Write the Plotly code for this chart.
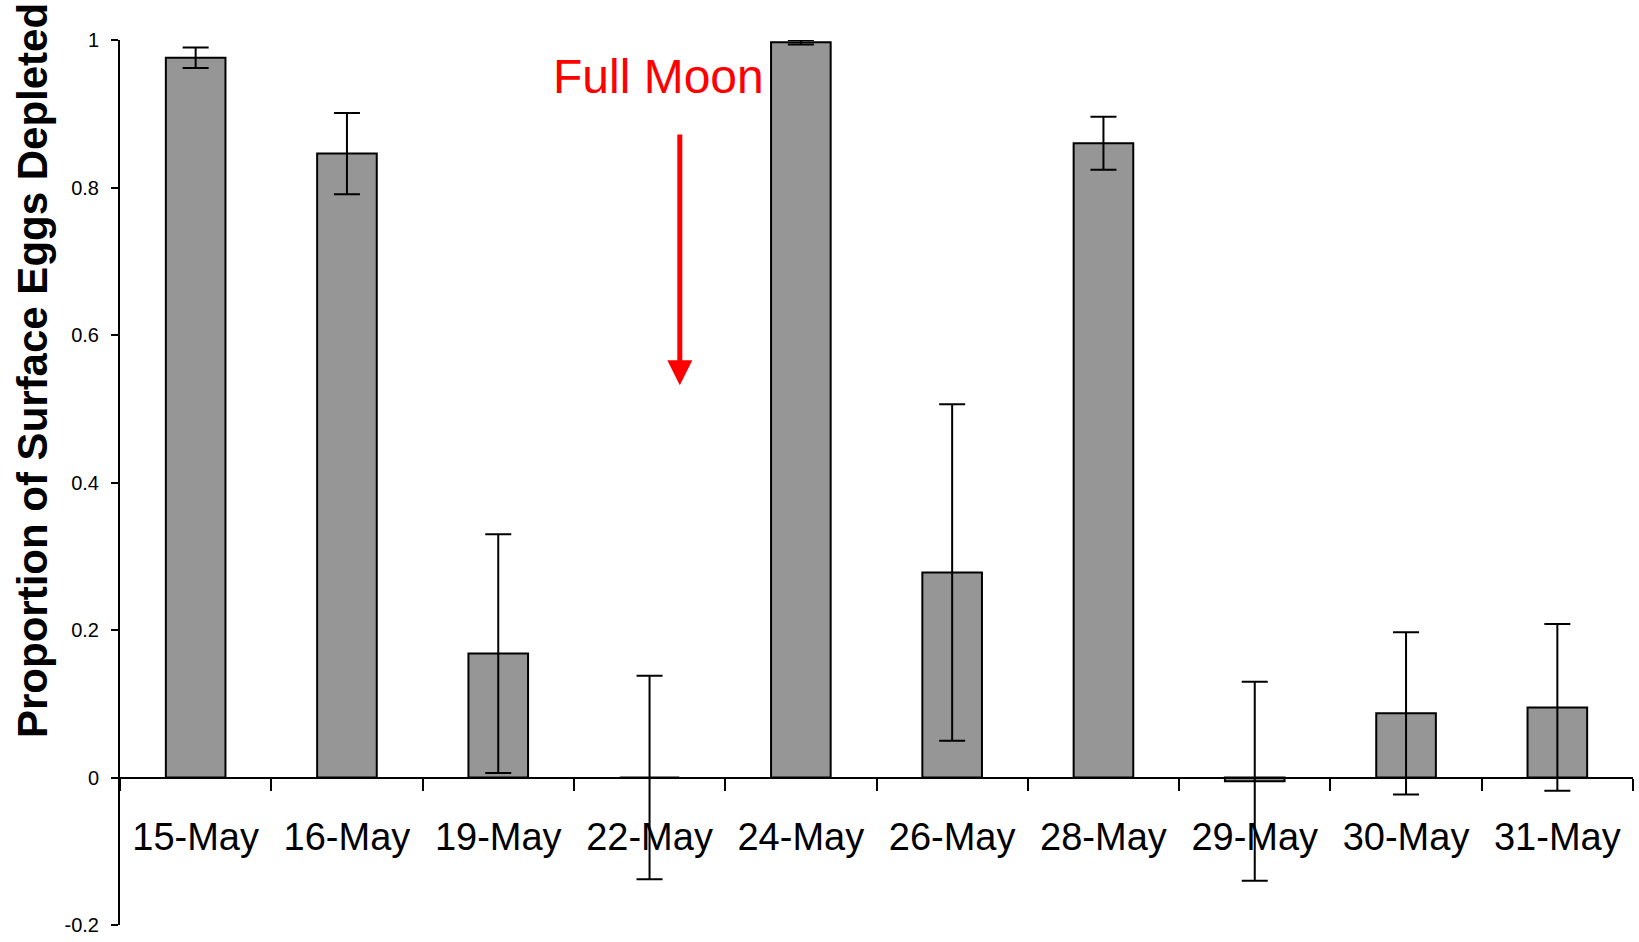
import plotly.graph_objects as go

dates = ["15-May", "16-May", "19-May", "22-May", "24-May", "26-May", "28-May", "29-May", "30-May", "31-May"]
proportion = [0.976, 0.846, 0.168, 0.0, 0.997, 0.278, 0.860, -0.005, 0.087, 0.095]
error = [0.014, 0.055, 0.162, 0.138, 0.003, 0.228, 0.036, 0.135, 0.110, 0.113]
y_ticks = [-0.2, 0, 0.2, 0.4, 0.6, 0.8, 1]
y_tick_text = ["-0.2", "0", "0.2", "0.4", "0.6", "0.8", "1"]

FONT = "Liberation Sans, Arial, sans-serif"

fig = go.Figure()
fig.add_trace(go.Bar(
    x=dates, y=proportion,
    marker=dict(color="#969696", line=dict(color="black", width=2)),
    error_y=dict(type="data", array=error, visible=True, color="black",
                 thickness=2, width=13),
    showlegend=False,
))

fig.update_layout(
    width=1639, height=942,
    margin=dict(l=120, r=6, t=40, b=12),
    paper_bgcolor="white", plot_bgcolor="white",
    bargap=0.606,
    font=dict(family=FONT, color="black"),
    xaxis=dict(
        type="category",
        anchor="free", position=0.2 / 1.2,
        showline=True, linecolor="black", linewidth=2,
        ticks="outside", tickson="boundaries", ticklen=12, tickwidth=2, tickcolor="black",
        tickfont=dict(size=38, family=FONT),
        ticklabelstandoff=26,
        showgrid=False, zeroline=False,
    ),
    yaxis=dict(
        range=[-0.2, 1],
        tickvals=y_ticks, ticktext=y_tick_text,
        showline=True, linecolor="black", linewidth=2,
        ticks="outside", ticklen=7, tickwidth=2, tickcolor="black",
        tickfont=dict(size=20, family=FONT),
        ticklabelstandoff=8,
        showgrid=False, zeroline=False,
    ),
)

# y-axis title as annotation (offset toward top like the reference)
fig.add_annotation(
    text="<b>Proportion of Surface Eggs Depleted</b>",
    textangle=-90, xref="paper", yref="paper",
    x=-0.0575, y=0.626, xanchor="center", yanchor="middle",
    showarrow=False, font=dict(size=42, family=FONT, color="black"),
)

# Full Moon label and arrow
fig.add_annotation(
    text="Full Moon", xref="x", yref="y", x=3.06, y=0.95,
    showarrow=False, font=dict(size=48, family=FONT, color="red"),
)
fig.add_annotation(
    x=3.2, y=0.532, ax=3.2, ay=0.874, xref="x", yref="y", axref="x", ayref="y",
    text="", showarrow=True, arrowhead=2, arrowsize=1, arrowwidth=5, arrowcolor="red",
)

fig.write_html("out.html")
